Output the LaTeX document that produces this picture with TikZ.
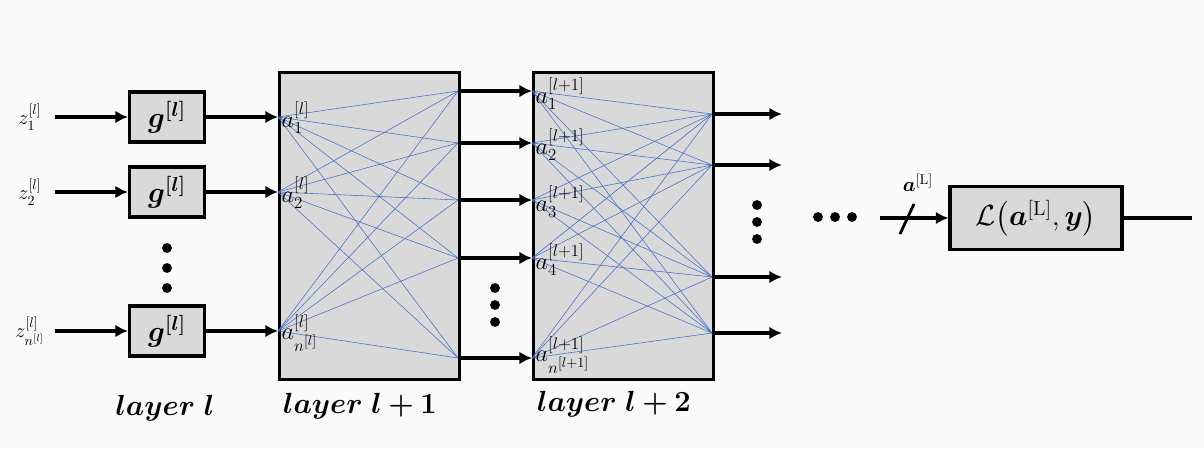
\documentclass[tikz,border=0pt]{standalone}
\usepackage{amsmath,amssymb,bm}
\usetikzlibrary{arrows.meta}
\begin{document}
\begin{tikzpicture}[x=0.025cm,y=-0.025cm,
  blk/.style={draw,line width=2.2pt,fill=black!15},
  arr/.style={line width=2.2pt,-{Latex[length=9pt,width=9pt]}},
  wire/.style={draw={rgb,255:red,70;green,110;blue,200},line width=0.4pt},
  lbl/.style={anchor=west,inner sep=1pt,font=\LARGE},
  dot/.style={circle,fill,inner sep=0pt,minimum size=7pt}]
    \fill[black!2] (0,0) rectangle (1204,448);
    % Layer boxes
    \node[blk,minimum width=180*0.025cm,minimum height=307*0.025cm,anchor=north west] (boxA) at (278,71) {};
    \node[blk,minimum width=180*0.025cm,minimum height=307*0.025cm,anchor=north west] (boxB) at (532,71) {};
    % Activation g blocks and inputs
    \foreach \n/\y/\s in {1/117/1,2/192/2,3/331/{n^{[l]}}}{
         \node[blk,minimum width=75*0.025cm,minimum height=50*0.025cm,inner sep=0pt] (g\n) at (167,\y) {\huge$\bm{g^{[l]}}$};
         \node[font=\Large] (z\n) at (30,\y) {$z^{[l]}_{\s}$};
         \coordinate (in\n) at (278,\y);
         \draw[arr] (55,\y) -- (g\n.west);
         \draw[arr] (g\n.east) -- (in\n);
    }
    % Points on layer boxes
    \foreach \n/\y in {1/91,2/143,3/200,4/258,5/358}{
         \coordinate (oA\n) at (458,\y);
         \coordinate (iB\n) at (532,\y);
         \draw[arr] (oA\n) -- (iB\n);
    }
    \foreach \n/\y in {1/114,2/165,3/277,4/333}{
         \coordinate (oB\n) at (712,\y);
         \coordinate (t\n) at (782,\y);
         \draw[arr] (oB\n) -- (t\n);
    }
    % Wires
    \foreach \i in {1,2,3}{\foreach \j in {1,...,5}{\draw[wire] (in\i) -- (oA\j);}}
    \foreach \i in {1,...,5}{\foreach \j in {1,...,4}{\draw[wire] (iB\i) -- (oB\j);}}
    % Labels
    \node[lbl] at (280,118) {$a^{[l]}_1$};
    \node[lbl] at (280,193) {$a^{[l]}_2$};
    \node[lbl] at (280,333) {$a^{[l]}_{n^{[l]}}$};
    \foreach \n/\y in {1/94,2/145,3/202,4/260}{
         \node[lbl] at (534,\y) {$a^{[l+1]}_{\n}$};
    }
    \node[lbl] at (534,355) {$a^{[l+1]}_{n^{[l+1]}}$};
    % Ellipsis dots
    \foreach \y in {248,268,288}{\node[dot] at (167,\y) {};}
    \foreach \y in {288,305,322}{\node[dot] at (495,\y) {};}
    \foreach \y in {205,222,239}{\node[dot] at (757,\y) {};}
    \foreach \x in {818,835,852}{\node[dot] at (\x,217) {};}
    % Loss
    \node[blk,minimum width=172*0.025cm,minimum height=63*0.025cm,inner sep=0pt] (loss) at (1036,218) {\huge$\mathcal{L}\big(\bm{a}^{[\mathrm{L}]},\bm{y}\big)$};
    \coordinate (lin) at (880,218);
    \coordinate (lout) at (1192,218);
    \draw[arr] (lin) -- (loss.west);
    \draw[line width=2pt] (900,234) -- (914,204);
    \draw[line width=2.2pt] (loss.east) -- (lout);
    \node[font=\Large] at (918,183) {$\bm{a}^{[\mathrm{L}]}$};
    % Layer names
    \node at (165,408) {\huge$\bm{layer\ l}$};
    \node at (360,406) {\huge$\bm{layer\ l+1}$};
    \node at (614,404) {\huge$\bm{layer\ l+2}$};
\end{tikzpicture}
\end{document}
